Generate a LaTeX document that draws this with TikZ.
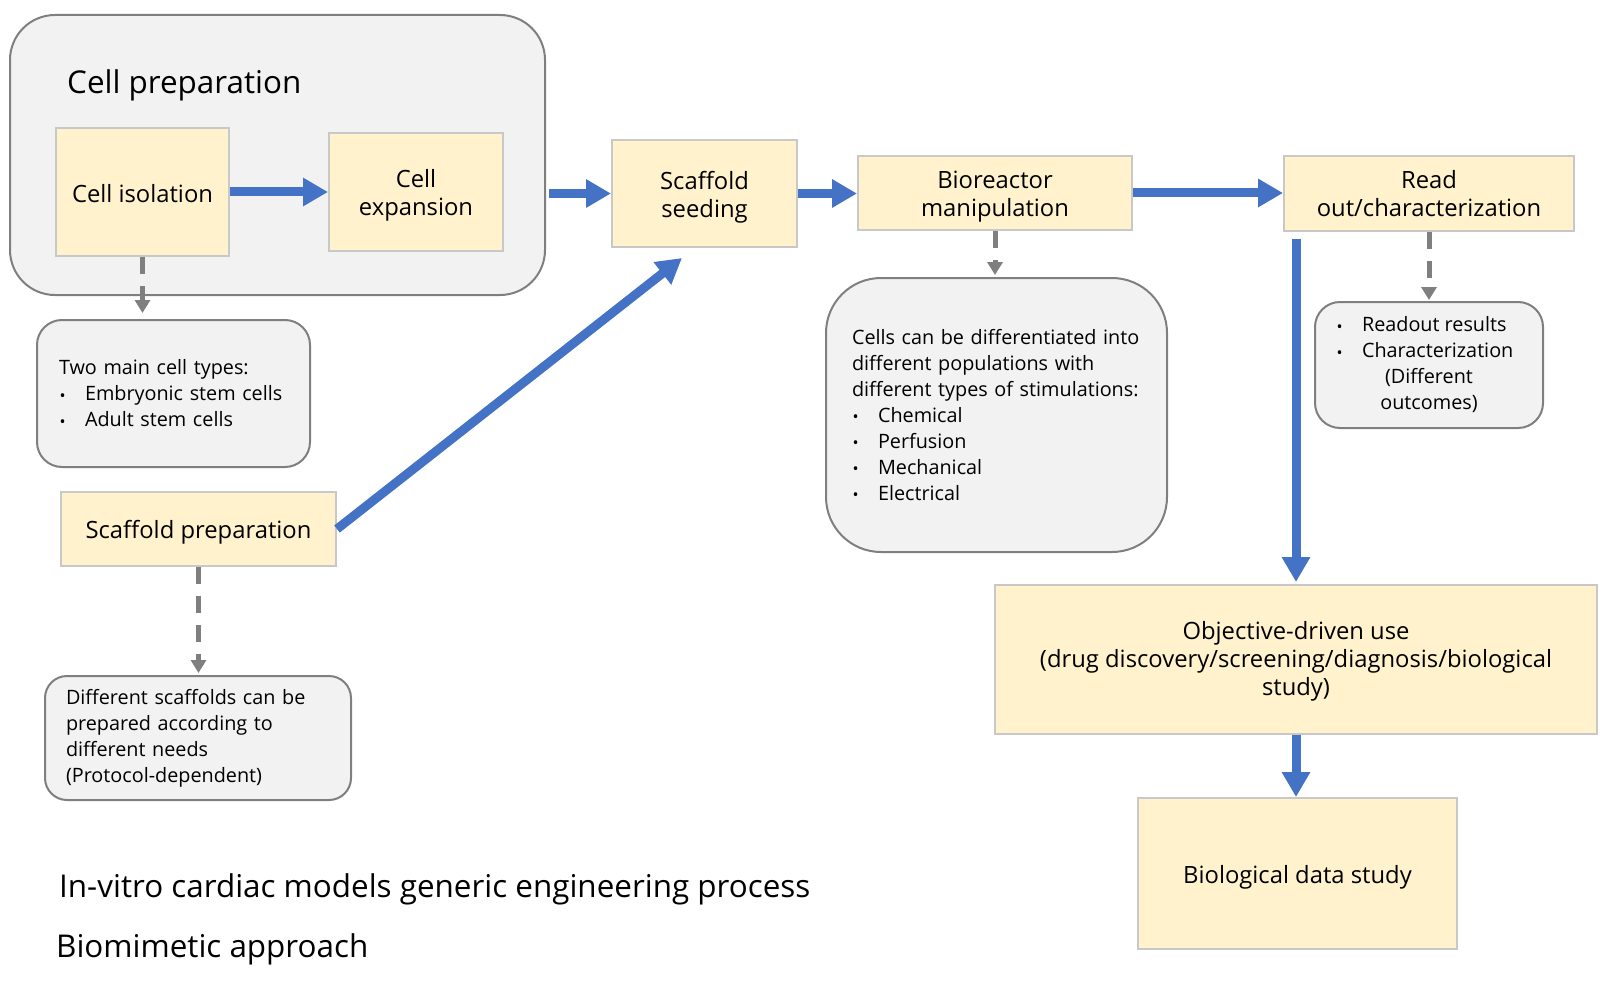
\documentclass[tikz,border=0pt]{standalone}
\usepackage{fontspec}
\setmainfont{Open Sans}
\usetikzlibrary{arrows.meta}

\definecolor{stepfill}{HTML}{FFF2CC}
\definecolor{stepline}{HTML}{C8C8C8}
\definecolor{notefill}{HTML}{F2F2F2}
\definecolor{noteline}{HTML}{7F7F7F}
\definecolor{flowblue}{HTML}{4472C4}

\newcommand{\bul}{\makebox[26pt][l]{\hspace{0.5pt}\raisebox{-0.5pt}{\fontsize{16}{16}\selectfont\textbullet}}}
\newcommand{\lift}[1][24pt]{\rule{0pt}{#1}}

\begin{document}
\begin{tikzpicture}[x=1pt,y=-1pt,
  stepbox/.style={draw=stepline,line width=2pt,fill=stepfill,align=center,
    font=\fontsize{23.8}{28}\selectfont,inner sep=0pt},
  notebox/.style={draw=noteline,line width=2pt,fill=notefill,rounded corners=#1,
    font=\fontsize{19.8}{26}\selectfont,inner ysep=0pt},
  notebox/.default=25pt,
  flow/.style={draw=flowblue,line width=9pt,-{Triangle[length=25pt,width=27pt]}},
  hint/.style={draw=noteline,line width=5pt,dash pattern=on 17pt off 12pt,
    -{Triangle[length=13pt,width=15pt]}},
  heading/.style={font=\fontsize{31.4}{38}\selectfont,anchor=base west,inner sep=0pt}]
\useasboundingbox (0,0) rectangle (1605,995);

% cell preparation group
\node[notebox=45pt,minimum width=535pt,minimum height=280pt] (prep) at (277.5,155) {};
\node[heading] (preptitle) at (67,94) {Cell preparation};
\node[stepbox,minimum width=173pt,minimum height=128pt] (iso) at (142.5,192) {\lift[22pt]Cell isolation};
\node[stepbox,minimum width=174pt,minimum height=118pt] (exp) at (416,192) {\lift Cell\\expansion};

% main steps
\node[stepbox,minimum width=185pt,minimum height=107pt] (seed) at (704.5,193.5) {\lift[25pt]Scaffold\\seeding};
\node[stepbox,minimum width=274pt,minimum height=74pt] (bio) at (995,193) {\lift[25pt]Bioreactor\\manipulation};
\node[stepbox,minimum width=290pt,minimum height=75pt] (read) at (1429,193.5) {Read\\out/characterization};
\node[stepbox,minimum width=275pt,minimum height=74pt] (sprep) at (198.5,529) {\lift Scaffold preparation};
\node[stepbox,minimum width=602pt,minimum height=149pt] (obj) at (1296,659.5)
  {\lift[22pt]Objective-driven use\\(drug discovery/screening/diagnosis/biological\\study)};
\node[stepbox,minimum width=319pt,minimum height=151pt] (data) at (1297.5,873.5) {\lift[25pt]Biological data study};
\coordinate (seedin) at (682,258);

% notes
\node[notebox,minimum width=273pt,minimum height=147pt,inner xsep=22pt,text width=229pt,align=left]
  (types) at (173.5,393.5)
  {Two main cell types:\\\bul Embryonic stem cells\\\bul Adult stem cells};
\node[notebox=22pt,minimum width=306pt,minimum height=124pt,inner xsep=21pt,text width=264pt,align=left]
  (needs) at (198,738)
  {Different scaffolds can be\\prepared according to\\different needs\\(Protocol-dependent)};
\node[notebox=55pt,minimum width=341pt,minimum height=274pt,inner xsep=26pt,text width=289pt,align=left]
  (diff) at (996.5,415)
  {Cells can be differentiated into\\different populations with\\different types of stimulations:\\
   \bul Chemical\\\bul Perfusion\\\bul Mechanical\\\bul Electrical};
\node[notebox,minimum width=228pt,minimum height=126pt,inner xsep=0pt,align=center]
  (results) at (1429,365)
  {\makebox[186pt][l]{\bul Readout results}\\\makebox[186pt][l]{\bul Characterization}\\(Different\\outcomes)};

% flow
\draw[flow] (iso) -- (exp);
\draw[flow,shorten <=3pt] (prep.east |- seed.west) -- (seed.west);
\draw[flow] (seed.east) -- (seed.east -| bio.west);
\draw[flow] (bio.east) -- (bio.east -| read.west);
\draw[flow,shorten <=7pt,shorten >=2pt] (obj.north |- read.south) -- (obj.north);
\draw[flow] (obj.south) -- (obj.south |- data.north);
\draw[flow] (sprep.east) -- (seedin);

% dashed links to the notes
\draw[hint,shorten >=6pt] (iso.south) -- (iso.south |- types.north);
\draw[hint,shorten >=2pt] (sprep.south) -- (sprep.south |- needs.north);
\draw[hint,shorten >=2pt] (bio.south) -- (bio.south |- diff.north);
\draw[hint,shorten >=1pt] (read.south) -- (read.south |- results.north);

% captions
\node[heading] (cap1) at (59,897) {In-vitro cardiac models generic engineering process};
\node[heading] (cap2) at (56,957) {Biomimetic approach};
\end{tikzpicture}
\end{document}
